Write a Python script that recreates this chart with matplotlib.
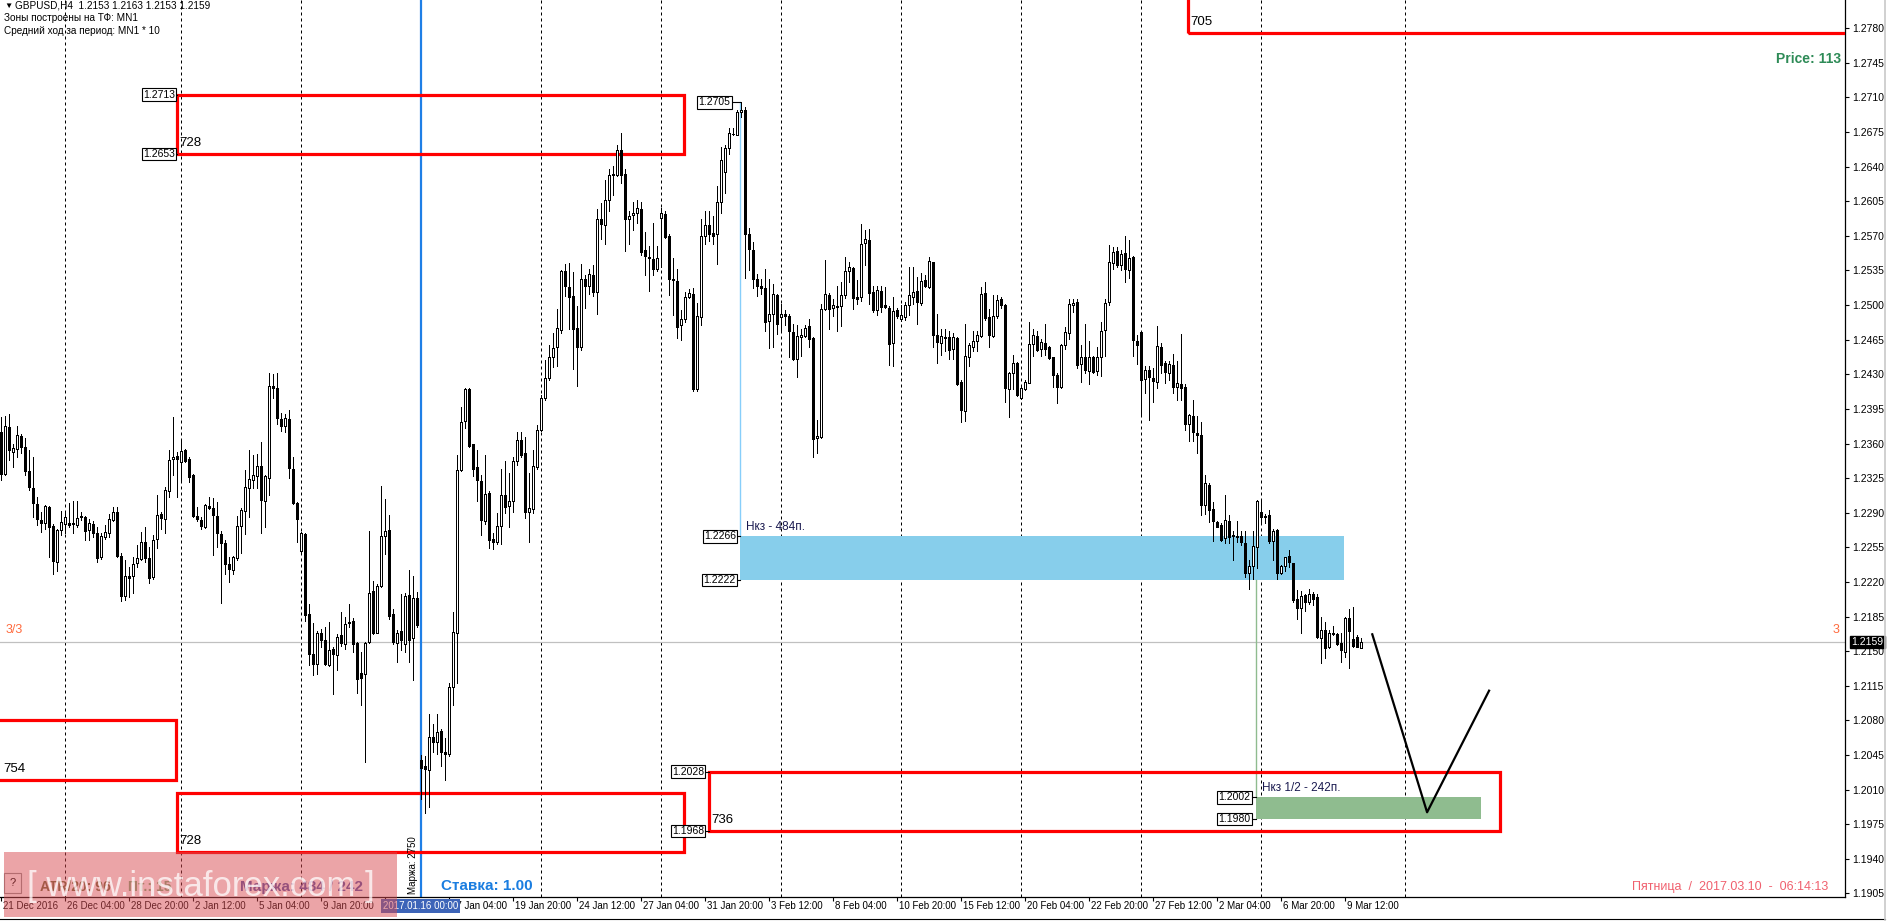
import numpy as np
import matplotlib
matplotlib.use("Agg")
import matplotlib.pyplot as plt
from matplotlib.patches import Rectangle
from matplotlib.lines import Line2D
import matplotlib.transforms as mtransforms

plt.rcParams['font.family'] = ['Liberation Sans', 'DejaVu Sans']

# GBPUSD H4, bars from 21 Dec 2016 08:00 to 10 Mar 2017 04:00, prices in 1e-4
open_p = [
    12372,12329,12377,12351,12354,12368,12356,12332,12315,12299,
    12283,12280,12296,12277,12240,12273,12279,12280,12280,12278,
    12286,12286,12273,12279,12269,12245,12265,12269,12283,12291,
    12246,12206,12226,12226,12239,12243,12260,12244,12225,12263,
    12289,12284,12312,12344,12347,12341,12353,12344,12328,12287,
    12283,12276,12297,12295,12287,12268,12259,12238,12232,12244,
    12277,12292,12315,12323,12327,12337,12302,12325,12418,12416,
    12385,12378,12385,12334,12300,12251,12268,12188,12147,12137,
    12168,12161,12136,12152,12146,12166,12157,12178,12180,12158,
    12128,12127,12159,12211,12168,12216,12266,12273,12188,12158,
    12170,12157,12207,12163,12204,
    12040,12034,12030,12063,12058,12069,12048,12046,12114,12168,
    12333,12383,12415,12359,12336,12322,12282,12310,12263,12260,
    12277,12308,12297,12302,12342,12364,12350,12291,12294,12336,
    12374,12406,12426,12448,12458,12475,12534,12518,12509,12477,
    12458,12526,12519,12530,12513,12587,12581,12606,12632,12632,
    12657,12633,12587,12591,12593,12597,12556,12549,12547,12537,
    12588,12592,12570,12526,12524,12480,12486,12508,12511,12415,
    12488,12570,12581,12573,12572,12604,12635,12659,12673,12672,
    12695,12697,12572,12556,12526,
    12519,12517,12484,12491,12510,12488,12491,12489,12473,12445,
    12468,12469,12479,12467,12366,12367,12496,12510,12497,12499,
    12499,12510,12534,12538,12508,12508,12563,12566,12513,12495,
    12514,12500,12497,12462,12495,12486,12488,12500,12508,12514,
    12502,12525,12518,12544,12470,12462,12468,12468,12456,12467,
    12422,12393,12448,12458,12464,12469,12512,12488,12469,12489,
    12506,12500,12415,12431,12441,12406,12415,12421,12461,12469,
    12456,12462,12458,12447,12429,12417,12460,12472,12500,12503,
    12440,12448,12433,12448,12433,12448,12475,12503,12543,12555,
    12541,12553,12536,12549,12464,
    12473,12425,12434,12426,12422,12458,12441,12431,12439,12417,
    12420,12417,12380,12388,12371,12369,12298,12318,12294,12281,
    12278,12264,12282,12267,12266,12266,12259,12229,12236,12255,
    12291,12287,12288,12261,12273,12229,12236,12246,12239,12203,
    12194,12207,12200,12208,12205,12163,12171,12154,12168,12167,
    12158,12149,12184,12162,12164,12153,
]
high_p = [
    12387,12388,12390,12360,12378,12370,12366,12353,12346,12306,
    12291,12298,12297,12279,12274,12292,12292,12300,12302,12302,
    12291,12287,12284,12282,12276,12269,12278,12289,12296,12296,
    12249,12242,12235,12245,12257,12270,12276,12255,12267,12308,
    12291,12316,12353,12387,12351,12363,12354,12346,12329,12296,
    12286,12299,12306,12305,12301,12272,12262,12245,12246,12287,
    12295,12333,12353,12348,12349,12362,12328,12431,12430,12431,
    12391,12390,12394,12346,12301,12270,12269,12198,12178,12170,
    12172,12174,12179,12154,12167,12190,12185,12198,12184,12159,
    12149,12159,12272,12221,12218,12317,12304,12288,12193,12171,
    12208,12209,12232,12226,12210,
    12045,12044,12086,12076,12086,12071,12062,12118,12190,12348,
    12397,12416,12416,12360,12353,12328,12348,12312,12269,12290,
    12334,12342,12330,12346,12372,12372,12367,12330,12353,12379,
    12409,12444,12460,12472,12496,12536,12542,12543,12533,12499,
    12542,12530,12537,12541,12597,12603,12627,12638,12641,12662,
    12674,12638,12595,12604,12606,12604,12574,12560,12583,12560,
    12598,12595,12572,12548,12537,12495,12513,12516,12517,12502,
    12587,12595,12595,12590,12620,12660,12662,12679,12679,12697,
    12705,12700,12578,12564,12531,
    12526,12537,12526,12521,12511,12501,12495,12491,12481,12480,
    12476,12480,12486,12468,12384,12501,12546,12512,12506,12519,
    12523,12549,12544,12539,12525,12582,12576,12577,12519,12519,
    12519,12518,12499,12508,12497,12500,12503,12539,12539,12528,
    12532,12530,12549,12544,12491,12476,12476,12474,12472,12468,
    12424,12481,12462,12474,12474,12518,12523,12496,12510,12510,
    12508,12501,12432,12450,12442,12419,12424,12483,12476,12474,
    12466,12481,12459,12448,12431,12461,12478,12506,12506,12506,
    12460,12481,12464,12449,12458,12483,12506,12561,12559,12559,
    12556,12570,12566,12550,12470,
    12474,12438,12438,12436,12479,12462,12443,12443,12451,12443,
    12471,12420,12390,12404,12388,12382,12328,12320,12301,12282,
    12280,12308,12288,12272,12282,12272,12272,12242,12272,12303,
    12302,12289,12293,12274,12274,12237,12245,12252,12239,12212,
    12211,12208,12213,12210,12208,12185,12179,12171,12175,12168,
    12168,12185,12193,12195,12166,12163,
]
low_p = [
    12323,12328,12343,12336,12346,12350,12328,12313,12286,12278,
    12270,12274,12245,12228,12231,12267,12269,12276,12269,12276,
    12283,12262,12262,12265,12240,12243,12263,12265,12282,12245,
    12201,12202,12205,12209,12235,12242,12240,12219,12223,12254,
    12274,12269,12306,12328,12306,12323,12341,12321,12286,12282,
    12274,12275,12294,12247,12255,12199,12228,12220,12228,12242,
    12249,12268,12286,12315,12315,12269,12276,12308,12406,12380,
    12373,12372,12325,12299,12260,12250,12180,12136,12126,12127,
    12154,12136,12135,12107,12131,12155,12152,12174,12149,12108,
    12096,12038,12158,12167,12168,12215,12248,12182,12157,12139,
    12151,12149,12139,12121,12174,
    12000,11986,11992,12048,12046,12034,12020,12044,12095,12118,
    12332,12376,12356,12327,12302,12267,12279,12254,12253,12258,
    12258,12290,12276,12291,12338,12346,12285,12260,12290,12334,
    12373,12404,12424,12437,12438,12472,12509,12476,12435,12418,
    12455,12497,12511,12509,12491,12567,12562,12595,12611,12631,
    12623,12555,12562,12576,12583,12551,12530,12514,12530,12534,
    12539,12568,12510,12490,12467,12465,12483,12507,12413,12413,
    12480,12562,12565,12562,12542,12593,12613,12653,12672,12672,
    12690,12527,12535,12517,12509,
    12511,12474,12457,12458,12471,12475,12480,12448,12444,12427,
    12449,12468,12458,12346,12350,12366,12495,12476,12489,12474,
    12479,12507,12523,12496,12501,12504,12541,12501,12493,12490,
    12493,12497,12439,12438,12487,12484,12485,12490,12501,12481,
    12500,12518,12517,12458,12441,12450,12454,12445,12445,12419,
    12382,12383,12438,12454,12454,12468,12485,12458,12468,12487,
    12497,12402,12387,12415,12408,12405,12414,12421,12449,12454,
    12449,12450,12445,12417,12401,12416,12456,12466,12493,12436,
    12422,12431,12420,12431,12429,12428,12449,12500,12537,12539,
    12536,12523,12527,12449,12440,
    12390,12411,12384,12402,12416,12431,12421,12424,12411,12404,
    12404,12374,12363,12363,12350,12288,12289,12281,12261,12276,
    12261,12259,12259,12242,12260,12257,12225,12213,12223,12234,
    12280,12280,12259,12242,12223,12228,12231,12235,12200,12182,
    12168,12191,12198,12197,12163,12138,12143,12153,12166,12156,
    12139,12144,12133,12154,12154,12153,
]
close_p = [
    12329,12378,12353,12355,12369,12356,12332,12316,12300,12284,
    12280,12297,12276,12241,12273,12281,12286,12278,12279,12285,
    12286,12271,12280,12269,12244,12266,12270,12284,12291,12246,
    12206,12226,12224,12238,12244,12260,12244,12224,12262,12288,
    12285,12313,12343,12346,12344,12352,12342,12326,12287,12284,
    12277,12298,12295,12288,12269,12259,12238,12233,12245,12277,
    12293,12316,12324,12328,12337,12303,12327,12418,12416,12386,
    12378,12386,12335,12300,12284,12269,12187,12147,12137,12168,
    12161,12137,12151,12147,12164,12158,12177,12179,12157,12122,
    12123,12158,12209,12168,12216,12266,12272,12186,12159,12168,
    12161,12206,12161,12204,12176,
    12032,12031,12063,12058,12068,12048,12046,12114,12169,12333,
    12382,12415,12357,12334,12323,12283,12309,12262,12260,12277,
    12308,12296,12302,12342,12364,12348,12291,12295,12337,12374,
    12406,12426,12448,12457,12477,12534,12519,12508,12476,12458,
    12526,12519,12531,12513,12587,12582,12606,12632,12633,12657,
    12632,12587,12590,12593,12598,12554,12550,12548,12537,12548,
    12593,12569,12526,12525,12478,12486,12508,12512,12415,12489,
    12570,12581,12572,12570,12604,12647,12659,12674,12673,12695,
    12697,12572,12557,12526,12519,
    12517,12483,12491,12511,12481,12491,12489,12474,12445,12469,
    12470,12477,12466,12365,12368,12496,12511,12496,12500,12498,
    12510,12534,12539,12507,12506,12562,12567,12512,12495,12515,
    12498,12498,12461,12494,12489,12490,12500,12510,12513,12503,
    12524,12519,12545,12470,12463,12469,12467,12455,12468,12420,
    12394,12449,12460,12464,12470,12511,12487,12470,12489,12505,
    12500,12416,12431,12441,12409,12416,12422,12461,12470,12455,
    12463,12456,12446,12429,12417,12460,12473,12501,12502,12439,
    12448,12434,12447,12432,12447,12474,12502,12544,12554,12541,
    12552,12537,12548,12465,12460,
    12424,12434,12427,12423,12459,12439,12432,12440,12417,12421,
    12416,12380,12389,12372,12369,12298,12320,12293,12282,12276,
    12262,12283,12265,12266,12265,12260,12229,12236,12256,12302,
    12286,12286,12261,12272,12229,12236,12245,12240,12202,12194,
    12206,12200,12208,12203,12164,12171,12153,12168,12167,12157,
    12151,12183,12170,12155,12154,12159,
]

time_labels = ["21 Dec 2016", "26 Dec 04:00", "28 Dec 20:00", "2 Jan 12:00", "5 Jan 04:00",
               "9 Jan 20:00", "12 Jan 12:00", "17 Jan 04:00", "19 Jan 20:00", "24 Jan 12:00",
               "27 Jan 04:00", "31 Jan 20:00", "3 Feb 12:00", "8 Feb 04:00", "10 Feb 20:00",
               "15 Feb 12:00", "20 Feb 04:00", "22 Feb 20:00", "27 Feb 12:00", "2 Mar 04:00",
               "6 Mar 20:00", "9 Mar 12:00"]
label_step = 16
week_starts = [16, 45, 75, 135, 165, 195, 225, 255, 285, 315, 351]
cursor_bar = 105
cursor_text = "2017.01.16 00:00"
last_price = 1.2159

# zones: (bar from, bar to, price low, price high, label)
red_zones = [(44.1, 170.9, 1.2653, 1.2713, "728"),
             (-5, 43.9, 1.2020, 1.2080, "754"),
             (44.1, 170.9, 1.1947, 1.2006, "728"),
             (177.1, 374.9, 1.1968, 1.2028, "736"),
             (296.9, 480, 1.2775, 1.2900, "705")]
blue_zone = (184.9, 335.8, 1.2222, 1.2266)
green_zone = (313.9, 370.0, 1.1980, 1.2002)
path_bars = [342.9, 356.6, 372.1]
path_prices = [1.2167, 1.1987, 1.2110]

o = np.array(open_p) / 1e4
h = np.array(high_p) / 1e4
l = np.array(low_p) / 1e4
c = np.array(close_p) / 1e4
x = np.arange(len(o))

W, H = 1887, 921
fig = plt.figure(figsize=(W / 100, H / 100), dpi=100, facecolor='white')
ax = fig.add_axes([0, 24 / H, 1845 / W, 897 / H])
ax.set_xlim(-0.175, 461.08)
ax.set_ylim(1.19013, 1.28086)

def fxy(px, py):
    return px / W, 1 - py / H

# week separators and cursor line
for b in week_starts:
    ax.axvline(b, color='black', lw=0.72, ls=(0, (3, 3)), zorder=1)
ax.axvline(cursor_bar, color='#1f7fe6', lw=1.6, zorder=2)
ax.axhline(last_price, color='#c0c0c0', lw=0.9, zorder=1)

# zones
for x0, x1, y0, y1, name in red_zones:
    ax.add_patch(Rectangle((x0, y0), x1 - x0, y1 - y0, fill=False, ec='#ff0000', lw=2.3, zorder=3))
    ax.text(max(x0, 0) + 0.6, y0 + 0.0005, name, fontsize=9.5, ha='left', va='bottom', zorder=6)
bx0, bx1, by0, by1 = blue_zone
ax.add_patch(Rectangle((bx0, by0), bx1 - bx0, by1 - by0, color='#87ceeb', lw=0, zorder=2))
gx0, gx1, gy0, gy1 = green_zone
ax.add_patch(Rectangle((gx0, gy0), gx1 - gx0, gy1 - gy0, color='#8fbc8f', lw=0, zorder=2))
ax.plot([bx0, bx0], [by1, 1.2705], color='#87cefa', lw=1, zorder=2)
ax.plot([gx0, gx0], [by0, gy1], color='#8fbc8f', lw=1, zorder=2)
ax.text(bx0 + 1.5, by1 + 0.0003, "Нкз - 484п.", fontsize=8.5, color='#1a1a50', va='bottom')
ax.text(gx0 + 1.5, gy1 + 0.0003, "Нкз 1/2 - 242п.", fontsize=8.5, color='#1a1a50', va='bottom')

def tag(xr, xl, price):
    ax.plot([xr, xl], [price, price], color='black', lw=0.8, zorder=5)
    ax.text(xr, price, "%.4f" % price, fontsize=7.5, ha='right', va='center', zorder=6,
            bbox=dict(boxstyle='square,pad=0.12', fc='white', ec='black', lw=0.8))

tag(43.6, 44.1, 1.2713)
tag(43.6, 44.1, 1.2653)
tag(182.4, bx0, 1.2705)
tag(183.8, bx0, 1.2266)
tag(183.8, bx0, 1.2222)
tag(175.8, 177.1, 1.2028)
tag(175.8, 177.1, 1.1968)
tag(312.4, gx0, 1.2002)
tag(312.4, gx0, 1.1980)

# candles
ax.vlines(x, l, h, colors='black', lw=0.72, zorder=4, antialiased=False)
body_lo = np.minimum(o, c)
body_h = np.maximum(np.abs(c - o), 0.00003)
faces = np.where(c >= o, 'white', 'black')
ax.bar(x, body_h, bottom=body_lo, width=0.5, color=faces, edgecolor='black',
       linewidth=0.72, zorder=5, antialiased=False)

ax.plot(path_bars, path_prices, color='black', lw=1.6, zorder=6)

# axes styling
for s in ['top', 'left']:
    ax.spines[s].set_visible(False)
ax.spines['right'].set_linewidth(0.9)
ax.spines['bottom'].set_linewidth(0.9)
ax.yaxis.tick_right()
yt = np.round(np.arange(1.1905, 1.27801, 0.0035), 4)
ax.set_yticks(yt)
ax.set_yticklabels(["%.4f" % v for v in yt])
ax.tick_params(axis='y', length=3, width=0.8, pad=2, labelsize=7.5)
label_bars = [label_step * k for k in range(len(time_labels))]
ax.set_xticks(label_bars)
ax.set_xticklabels([])
ax.tick_params(axis='x', length=3, width=0.8)
tr = mtransforms.blended_transform_factory(ax.transData, ax.transAxes)
for b, s in zip(label_bars, time_labels):
    ax.text(b + 0.6, -0.0105, s, transform=tr, fontsize=7, ha='left', va='center', clip_on=False)
ax.text(cursor_bar, -0.0105, cursor_text, transform=tr, fontsize=7, ha='center', va='center',
        color='white', zorder=10, clip_on=False,
        bbox=dict(boxstyle='square,pad=0.2', fc='#3d64b8', ec='none'))

trp = mtransforms.blended_transform_factory(ax.transAxes, ax.transData)
ax.text(1.0035, last_price, "%.4f" % last_price, transform=trp, fontsize=7.5, color='white',
        ha='left', va='center', zorder=10, clip_on=False,
        bbox=dict(boxstyle='square,pad=0.12', fc='black', ec='black'))
ax.text(0.003, last_price + 0.0012, "3/3", transform=trp, fontsize=9, color='#ff6a3d', va='center')
ax.text(0.9935, last_price + 0.0012, "3", transform=trp, fontsize=9, color='#ff6a3d', va='center')

# header texts
fig.text(*fxy(4, 6), "▼", fontsize=6, va='center')
fig.text(*fxy(15, 6), "GBPUSD,H4  1.2153 1.2163 1.2153 1.2159", fontsize=7.2, va='center')
fig.text(*fxy(4, 18), "Зоны построены на ТФ: MN1", fontsize=7.2, va='center')
fig.text(*fxy(4, 31), "Средний ход за период: MN1 * 10", fontsize=7.2, va='center')
fig.text(*fxy(1841, 59), "Price: 113", fontsize=10, fontweight='bold', color='#2e8b57',
         ha='right', va='center')
fig.text(*fxy(1828, 887), "Пятница  /  2017.03.10  -  06:14:13", fontsize=9, color='#f0606e',
         ha='right', va='center')

# bottom-left panel
fig.text(*fxy(441, 886), "Ставка: 1.00", fontsize=11, fontweight='bold', color='#1a7de0', va='center')
fig.text(*fxy(413, 894), "Маржа: 2750", fontsize=7, rotation=90, ha='center', va='bottom')
fig.patches.append(Rectangle(fxy(4, 893), 17 / W, 20 / H, transform=fig.transFigure,
                             fc='white', ec='#909090', lw=0.8, zorder=8))
fig.text(*fxy(12.5, 883), "?", fontsize=8, ha='center', va='center', zorder=9)
fig.text(*fxy(40, 887), "ATR/20: 96", fontsize=10, fontweight='bold', color='#6e6a3c', va='center', zorder=9)
fig.text(*fxy(128, 887), "Пт.: 15", fontsize=10, fontweight='bold', color='#7fb07f', va='center', zorder=9)
fig.text(*fxy(240, 887), "Маржа: 484 / 242", fontsize=11, fontweight='bold', color='#5558a8', va='center', zorder=9)
fig.patches.append(Rectangle(fxy(4, 917), 393 / W, 65 / H, transform=fig.transFigure,
                             fc='#d84a50', ec='none', alpha=0.5, zorder=20))
fig.text(*fxy(27, 886), "[ www.instaforex.com ]", fontsize=25, color='white', alpha=0.75,
         va='center', zorder=21)

# window frame
fig.lines.append(Line2D([0, 1885 / W], [1 - 918.5 / H] * 2, transform=fig.transFigure, color='black', lw=0.8))
fig.lines.append(Line2D([1885 / W] * 2, [1 - 920 / H, 1], transform=fig.transFigure, color='#c8c8c8', lw=1.2))

fig.savefig("out.png", dpi=100, facecolor='white')
